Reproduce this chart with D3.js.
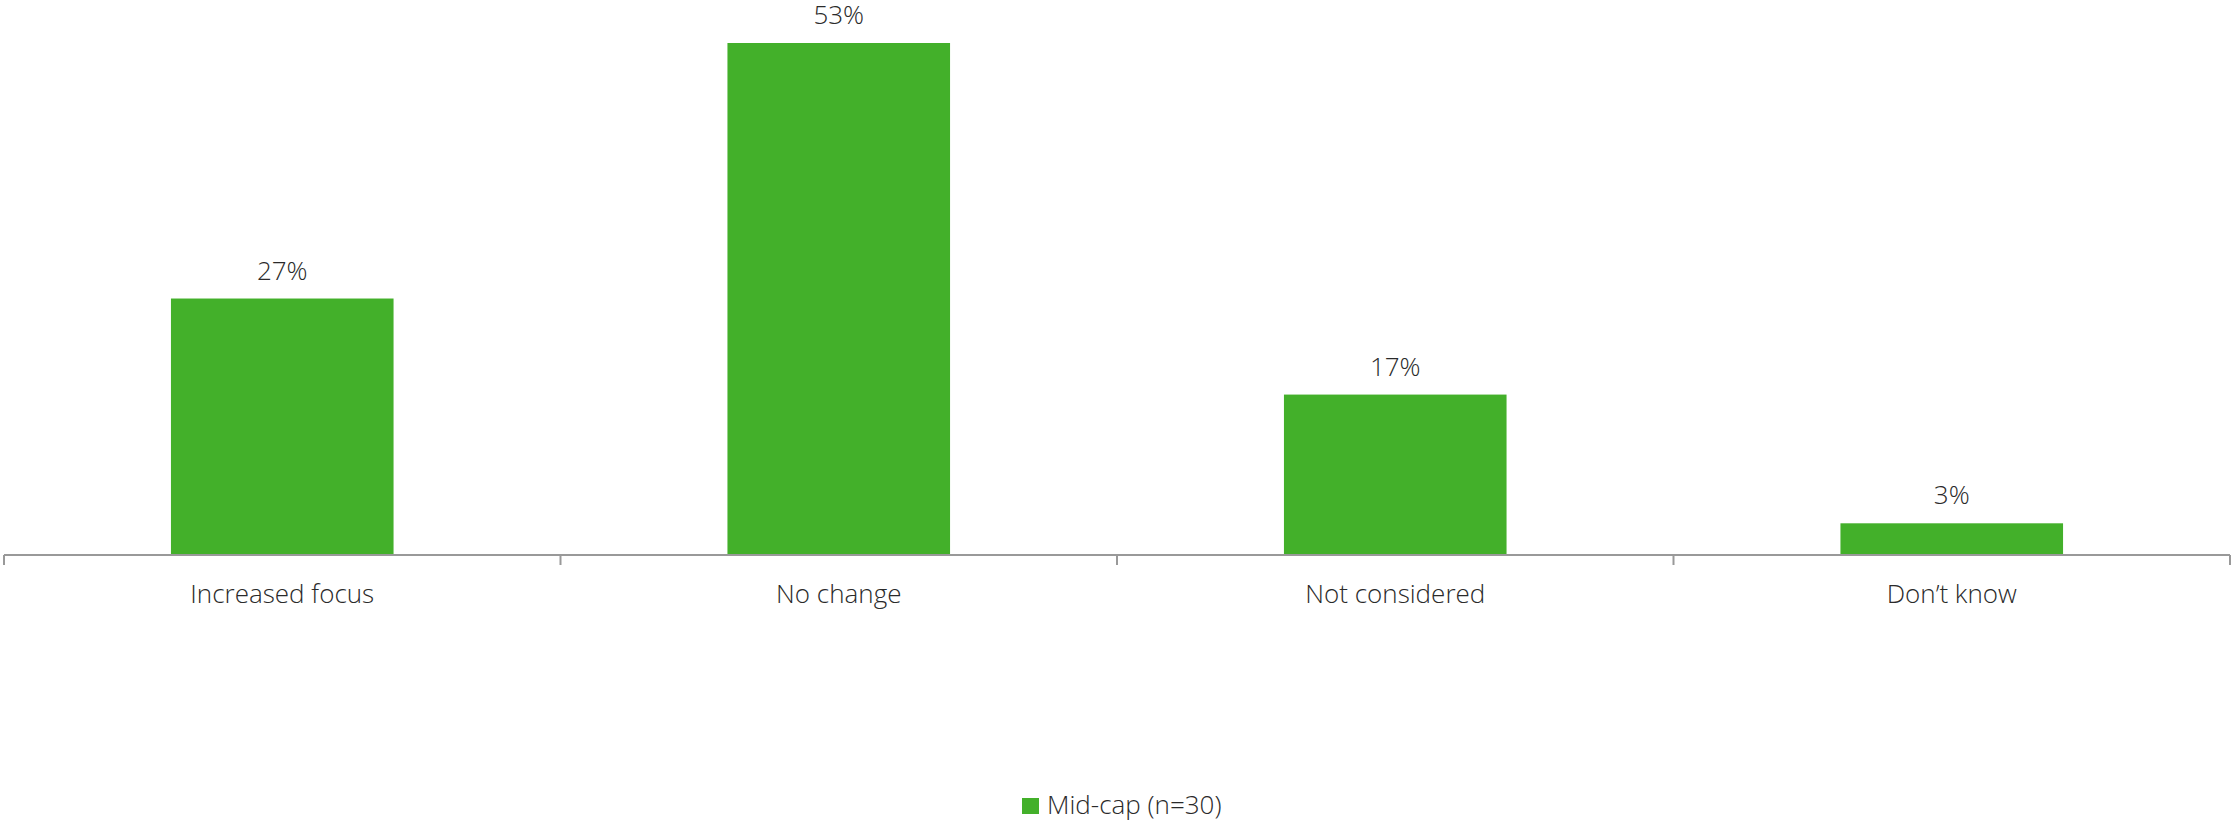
<!DOCTYPE html>
<html>
<head>
<meta charset="utf-8">
<script src="https://cdn.jsdelivr.net/npm/d3@7"></script>
<style>
  html, body { margin: 0; padding: 0; background: #fff; }
  svg { display: block; font-family: "Open Sans", sans-serif; }
  .valLab, .catLab, .legLab { font-weight: 300; fill: #2a2a2a; font-size: 26px; }
</style>
</head>
<body>
<svg id="chart" width="2234" height="822"></svg>
<script>
// share of respondents, n=30
const categories = ["Increased focus", "No change", "Not considered", "Don’t know"];
const values = [26.7, 53.3, 16.7, 3.3];
const valueLabels = ["27%", "53%", "17%", "3%"];
const seriesName = "Mid-cap (n=30)";

const green = "#43b02a";
const axisY = 555;

const svg = d3.select("#chart");

const x = d3.scaleBand().domain(categories).range([4, 2230]).paddingInner(0.6).paddingOuter(0.3);
// band edges, used for the ticks between categories
const xEdge = d3.scaleLinear().domain([0, categories.length]).range([4, 2230]);

const y = d3.scaleLinear().domain([0, d3.max(values)]).range([axisY, 43]);

const data = categories.map((c, i) => ({ c, v: values[i], lab: valueLabels[i] }));

// bars
svg.selectAll("rect.bar")
  .data(data)
  .enter()
  .append("rect")
  .attr("class", "bar")
  .attr("x", (d) => x(d.c))
  .attr("y", (d) => y(d.v))
  .attr("width", x.bandwidth())
  .attr("height", (d) => axisY - y(d.v))
  .attr("fill", green);

// value labels
svg.selectAll("text.valLab")
  .data(data)
  .enter()
  .append("text")
  .attr("class", "valLab")
  .attr("x", (d) => x(d.c) + x.bandwidth() / 2)
  .attr("y", (d) => y(d.v) - 19)
  .attr("text-anchor", "middle")
  .text((d) => d.lab);

// axis line + ticks
const axis = svg.append("g").attr("stroke", "#999").attr("stroke-width", 2).attr("fill", "none");
axis.append("line")
  .attr("x1", xEdge(0)).attr("x2", xEdge(categories.length))
  .attr("y1", axisY).attr("y2", axisY);
axis.selectAll("line.tick")
  .data(d3.range(categories.length + 1))
  .enter()
  .append("line")
  .attr("class", "tick")
  .attr("x1", (i) => xEdge(i)).attr("x2", (i) => xEdge(i))
  .attr("y1", axisY).attr("y2", axisY + 10);

// category labels
svg.selectAll("text.catLab")
  .data(data)
  .enter()
  .append("text")
  .attr("class", "catLab")
  .attr("x", (d) => x(d.c) + x.bandwidth() / 2)
  .attr("y", axisY + 48)
  .attr("text-anchor", "middle")
  .text((d) => d.c);

// legend
const leg = svg.append("g").attr("transform", "translate(1022,798)");
leg.append("rect").attr("width", 17).attr("height", 16).attr("fill", green);
leg.append("text")
  .attr("class", "legLab")
  .attr("x", 25)
  .attr("y", 16)
  .text(seriesName);
</script>
</body>
</html>
